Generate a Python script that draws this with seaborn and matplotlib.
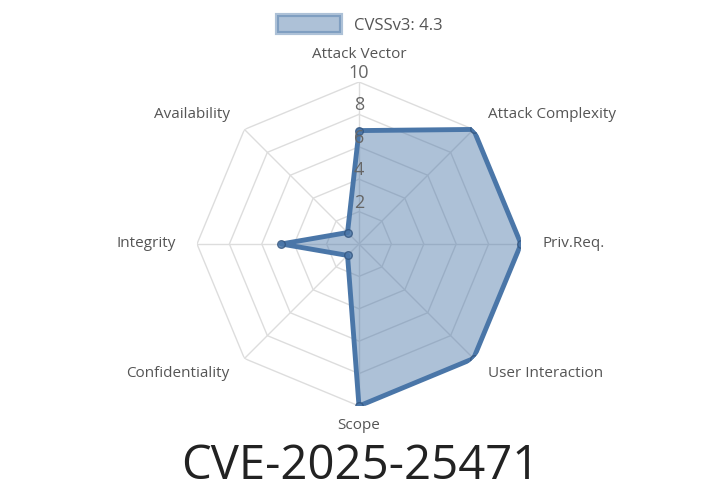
import numpy as np
import matplotlib
matplotlib.use("Agg")
import matplotlib.pyplot as plt
import seaborn as sns
from matplotlib.patches import Patch

categories = ["Attack Vector", "Attack Complexity", "Priv.Req.", "User Interaction",
              "Scope", "Confidentiality", "Integrity", "Availability"]
values = [7.0, 10, 10, 10, 10, 1, 4.8, 1]
levels = [2, 4, 6, 8, 10]
legend_label = "CVSSv3: 4.3"
title = "CVE-2025-25471"

sns.set_theme(style="white")
plt.rcParams['font.family'] = ['Open Sans', 'DejaVu Sans']

line_c = "#4a76a8"
fill_c = "#4a76a8"

fig = plt.figure(figsize=(7.2, 5.04), dpi=100)
ax = fig.add_axes([0.2736, 0.1944, 0.45, 0.643], projection="polar")
ax.set_theta_offset(np.pi / 2)
ax.set_theta_direction(-1)
ax.set_ylim(0, 10)
ax.grid(False)
ax.spines["polar"].set_visible(False)
ax.set_xticks([])
ax.set_yticks([])
ax.set_facecolor("none")

n = len(categories)
theta = np.linspace(0, 2 * np.pi, n, endpoint=False)
closed = np.append(theta, theta[0])

for lv in levels:
    ax.plot(closed, [lv] * (n + 1), color="#dddddd", lw=1, zorder=1)
for t in theta:
    ax.plot([t, t], [0, 10], color="#dddddd", lw=1, zorder=1)

vals = np.append(values, values[0])
ax.fill(closed, vals, color=fill_c, alpha=0.45, zorder=2)
ax.plot(closed, vals, color=line_c, lw=3.5, zorder=3)
ax.scatter(theta, values, s=30, color=line_c, edgecolor="#33557f", alpha=0.8, zorder=4)

for lv in levels:
    ax.text(0, lv, str(lv), ha="center", va="bottom", fontsize=13, color="#666666", zorder=5)

aligns = ["center", "left", "left", "left", "center", "right", "right", "right"]
for t, lab, ha in zip(theta, categories, aligns):
    r = 11.7 if ha == "center" else 11.3
    if lab == "Scope":
        r = 11.2
    ax.text(t, r, lab, ha=ha, va="center", fontsize=11, color="#555555")

fig.legend(handles=[Patch(facecolor=fill_c, alpha=0.45, edgecolor=line_c, lw=3)],
           labels=[legend_label], loc="upper center", bbox_to_anchor=(0.5, 1.0),
           frameon=False, fontsize=12, handlelength=3.8, handleheight=1.3,
           labelcolor="#555555")
fig.text(0.5, 0.075, title, ha="center", va="center", fontsize=34, color="#222222")

fig.savefig("out.png", dpi=100)
